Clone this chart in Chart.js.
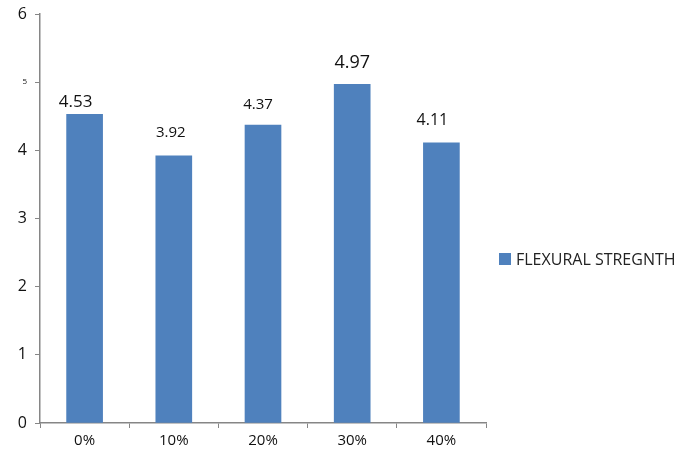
<!DOCTYPE html>
<html>
<head>
<meta charset="utf-8">
<script src="https://cdn.jsdelivr.net/npm/chart.js@4/dist/chart.umd.min.js"></script>
<style>
  html, body { margin: 0; padding: 0; background: #fff; }
  canvas { display: block; }
</style>
</head>
<body>
<canvas id="chart" width="697" height="461"></canvas>
<script>
// --- DATA ---
const categories = ['0%', '10%', '20%', '30%', '40%'];
const strengthValues = [4.53, 3.92, 4.37, 4.97, 4.11];
const seriesName = 'FLEXURAL STREGNTH';
const yTicks = [0, 1, 2, 3, 4, 5, 6];

// value label look: font size, horizontal nudge, gap above bar
const labelSizes = [17, 15, 15, 18, 16];
const labelShiftX = [-9, -3, -5, 0, -9];
const labelGap = [7, 19, 16, 16, 18];
const barColor = '#4F81BD';
const axisColor = '#868686';
const fontFamily = "'Open Sans', 'Noto Sans', sans-serif";

// value labels above bars
const valueLabels = {
    id: 'valueLabels',
    afterDatasetsDraw(chart) {
        const ctx = chart.ctx;
        const meta = chart.getDatasetMeta(0);
        ctx.save();
        ctx.fillStyle = '#111';
        ctx.textAlign = 'center';
        ctx.textBaseline = 'alphabetic';
        meta.data.forEach((bar, i) => {
            ctx.font = `${labelSizes[i]}px ${fontFamily}`;
            ctx.fillText(strengthValues[i].toFixed(2), bar.x + labelShiftX[i], bar.y - labelGap[i]);
        });
        ctx.restore();
    }
};

// legend on the right, beside the plot
const sideLegend = {
    id: 'sideLegend',
    afterDraw(chart) {
        const ctx = chart.ctx;
        const ds = chart.data.datasets[0];
        const x = chart.chartArea.right + 13, y = 259;
        ctx.save();
        ctx.fillStyle = ds.backgroundColor;
        ctx.fillRect(x, y - 6, 12, 12);
        ctx.fillStyle = '#222';
        ctx.font = `16px ${fontFamily}`;
        ctx.textBaseline = 'middle';
        ctx.fillText(ds.label, x + 17, y + 1);
        ctx.restore();
    }
};

new Chart(document.getElementById('chart'), {
    type: 'bar',
    data: {
        labels: categories,
        datasets: [{
            label: seriesName,
            data: strengthValues,
            backgroundColor: barColor,
            barThickness: 36
        }]
    },
    options: {
        responsive: false,
        animation: false,
        layout: { padding: { top: 14, right: 211, left: 0, bottom: 0 } },
        plugins: { legend: { display: false }, tooltip: { enabled: false } },
        scales: {
            x: {
                offset: true,
                afterFit: s => { s.height = 38; },
                grid: { offset: true, drawOnChartArea: false, drawTicks: true, tickLength: 5, color: axisColor },
                border: { color: axisColor, width: 1.5 },
                ticks: { color: '#111', font: { size: 15, family: fontFamily }, padding: 4 }
            },
            y: {
                min: 0, max: 6,
                afterFit: s => { s.width = 40; s.paddingTop = 0; s.paddingBottom = 0; },
                afterBuildTicks: s => { s.ticks = yTicks.map(v => ({ value: v })); },
                grid: { drawOnChartArea: false, drawTicks: true, tickLength: 5, color: axisColor },
                border: { color: axisColor, width: 1.5 },
                ticks: {
                    color: '#111',
                    padding: 8,
                    font: c => ({ size: c.tick && c.tick.value === 5 ? 8 : 16, family: fontFamily })
                }
            }
        }
    },
    plugins: [valueLabels, sideLegend]
});
</script>
</body>
</html>
